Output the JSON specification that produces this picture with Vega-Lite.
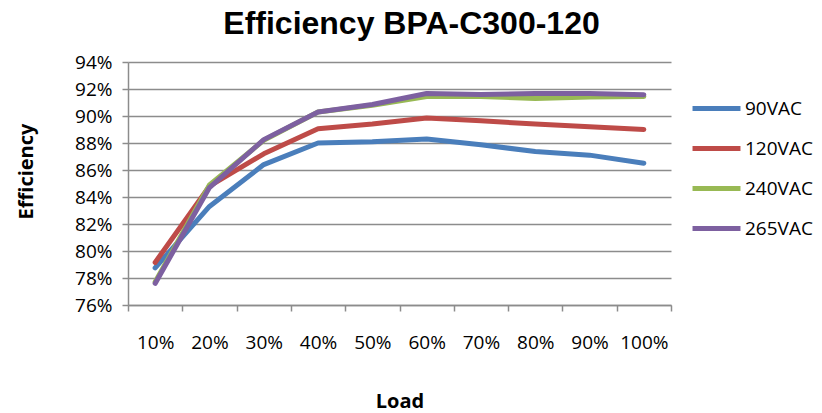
{
  "$schema": "https://vega.github.io/schema/vega-lite/v6.json",
  "width": 543,
  "height": 243,
  "autosize": "none",
  "padding": {"left": 128, "top": 62, "right": 151, "bottom": 108},
  "background": "white",
  "title": {
    "text": "Efficiency BPA-C300-120",
    "font": "Liberation Sans",
    "fontSize": 32,
    "fontWeight": "bold",
    "color": "#000000",
    "anchor": "middle",
    "dx": 12,
    "offset": 12
  },
  "data": {
    "values": [
      {"load": "10%", "series": "90VAC", "eff": 0.7875},
      {"load": "20%", "series": "90VAC", "eff": 0.833},
      {"load": "30%", "series": "90VAC", "eff": 0.864},
      {"load": "40%", "series": "90VAC", "eff": 0.880},
      {"load": "50%", "series": "90VAC", "eff": 0.881},
      {"load": "60%", "series": "90VAC", "eff": 0.883},
      {"load": "70%", "series": "90VAC", "eff": 0.8787},
      {"load": "80%", "series": "90VAC", "eff": 0.8737},
      {"load": "90%", "series": "90VAC", "eff": 0.871},
      {"load": "100%", "series": "90VAC", "eff": 0.865},
      {"load": "10%", "series": "120VAC", "eff": 0.7915},
      {"load": "20%", "series": "120VAC", "eff": 0.848},
      {"load": "30%", "series": "120VAC", "eff": 0.872},
      {"load": "40%", "series": "120VAC", "eff": 0.8905},
      {"load": "50%", "series": "120VAC", "eff": 0.894},
      {"load": "60%", "series": "120VAC", "eff": 0.8985},
      {"load": "70%", "series": "120VAC", "eff": 0.8965},
      {"load": "80%", "series": "120VAC", "eff": 0.894},
      {"load": "90%", "series": "120VAC", "eff": 0.892},
      {"load": "100%", "series": "120VAC", "eff": 0.890},
      {"load": "10%", "series": "240VAC", "eff": 0.777},
      {"load": "20%", "series": "240VAC", "eff": 0.849},
      {"load": "30%", "series": "240VAC", "eff": 0.882},
      {"load": "40%", "series": "240VAC", "eff": 0.903},
      {"load": "50%", "series": "240VAC", "eff": 0.908},
      {"load": "60%", "series": "240VAC", "eff": 0.9145},
      {"load": "70%", "series": "240VAC", "eff": 0.9145},
      {"load": "80%", "series": "240VAC", "eff": 0.913},
      {"load": "90%", "series": "240VAC", "eff": 0.914},
      {"load": "100%", "series": "240VAC", "eff": 0.9145},
      {"load": "10%", "series": "265VAC", "eff": 0.776},
      {"load": "20%", "series": "265VAC", "eff": 0.847},
      {"load": "30%", "series": "265VAC", "eff": 0.8825},
      {"load": "40%", "series": "265VAC", "eff": 0.903},
      {"load": "50%", "series": "265VAC", "eff": 0.9085},
      {"load": "60%", "series": "265VAC", "eff": 0.9167},
      {"load": "70%", "series": "265VAC", "eff": 0.916},
      {"load": "80%", "series": "265VAC", "eff": 0.9167},
      {"load": "90%", "series": "265VAC", "eff": 0.9167},
      {"load": "100%", "series": "265VAC", "eff": 0.9157}
    ]
  },
  "mark": {"type": "line", "strokeWidth": 5, "strokeCap": "round", "strokeJoin": "round"},
  "encoding": {
    "x": {
      "field": "load",
      "type": "ordinal",
      "sort": ["10%", "20%", "30%", "40%", "50%", "60%", "70%", "80%", "90%", "100%"],
      "bandPosition": 0.5,
      "scale": {"type": "band", "paddingInner": 0, "paddingOuter": 0},
      "axis": {
        "title": "Load",
        "titleFont": "Open Sans",
        "titleFontSize": 20,
        "titleFontWeight": "bold",
        "titleColor": "#000000",
        "titlePadding": 39,
        "labelFont": "Open Sans",
        "labelFontSize": 19,
        "labelColor": "#000000",
        "labelAngle": 0,
        "labelPadding": 22,
        "tickBand": "extent",
        "tickSize": 6,
        "tickColor": "#8c8c8c",
        "tickWidth": 1.5,
        "domainColor": "#8c8c8c",
        "domainWidth": 1.5,
        "grid": false
      }
    },
    "y": {
      "field": "eff",
      "type": "quantitative",
      "scale": {"domain": [0.76, 0.94], "nice": false, "zero": false},
      "axis": {
        "title": "Efficiency",
        "titleFont": "Open Sans",
        "titleFontSize": 20,
        "titleFontWeight": "bold",
        "titleColor": "#000000",
        "titlePadding": 38,
        "titleY": 109,
        "format": ".0%",
        "values": [0.76, 0.78, 0.80, 0.82, 0.84, 0.86, 0.88, 0.90, 0.92, 0.94],
        "labelFont": "Open Sans",
        "labelFontSize": 19,
        "labelColor": "#000000",
        "labelPadding": 10,
        "tickSize": 6,
        "tickColor": "#8c8c8c",
        "tickWidth": 1.5,
        "domainColor": "#8c8c8c",
        "domainWidth": 1.5,
        "grid": true,
        "gridColor": "#8c8c8c",
        "gridWidth": 1.5
      }
    },
    "color": {
      "field": "series",
      "type": "nominal",
      "sort": ["90VAC", "120VAC", "240VAC", "265VAC"],
      "scale": {
        "domain": ["90VAC", "120VAC", "240VAC", "265VAC"],
        "range": ["#4a7ebb", "#be4b48", "#98b954", "#7d60a0"]
      },
      "legend": {
        "title": null,
        "orient": "none",
        "legendX": 562,
        "legendY": 20,
        "symbolType": "stroke",
        "symbolSize": 2300,
        "symbolStrokeWidth": 5,
        "labelFont": "Open Sans",
        "labelFontSize": 19,
        "labelColor": "#000000",
        "labelOffset": 2,
        "rowPadding": 3
      }
    }
  },
  "config": {
    "view": {"stroke": null}
  }
}
